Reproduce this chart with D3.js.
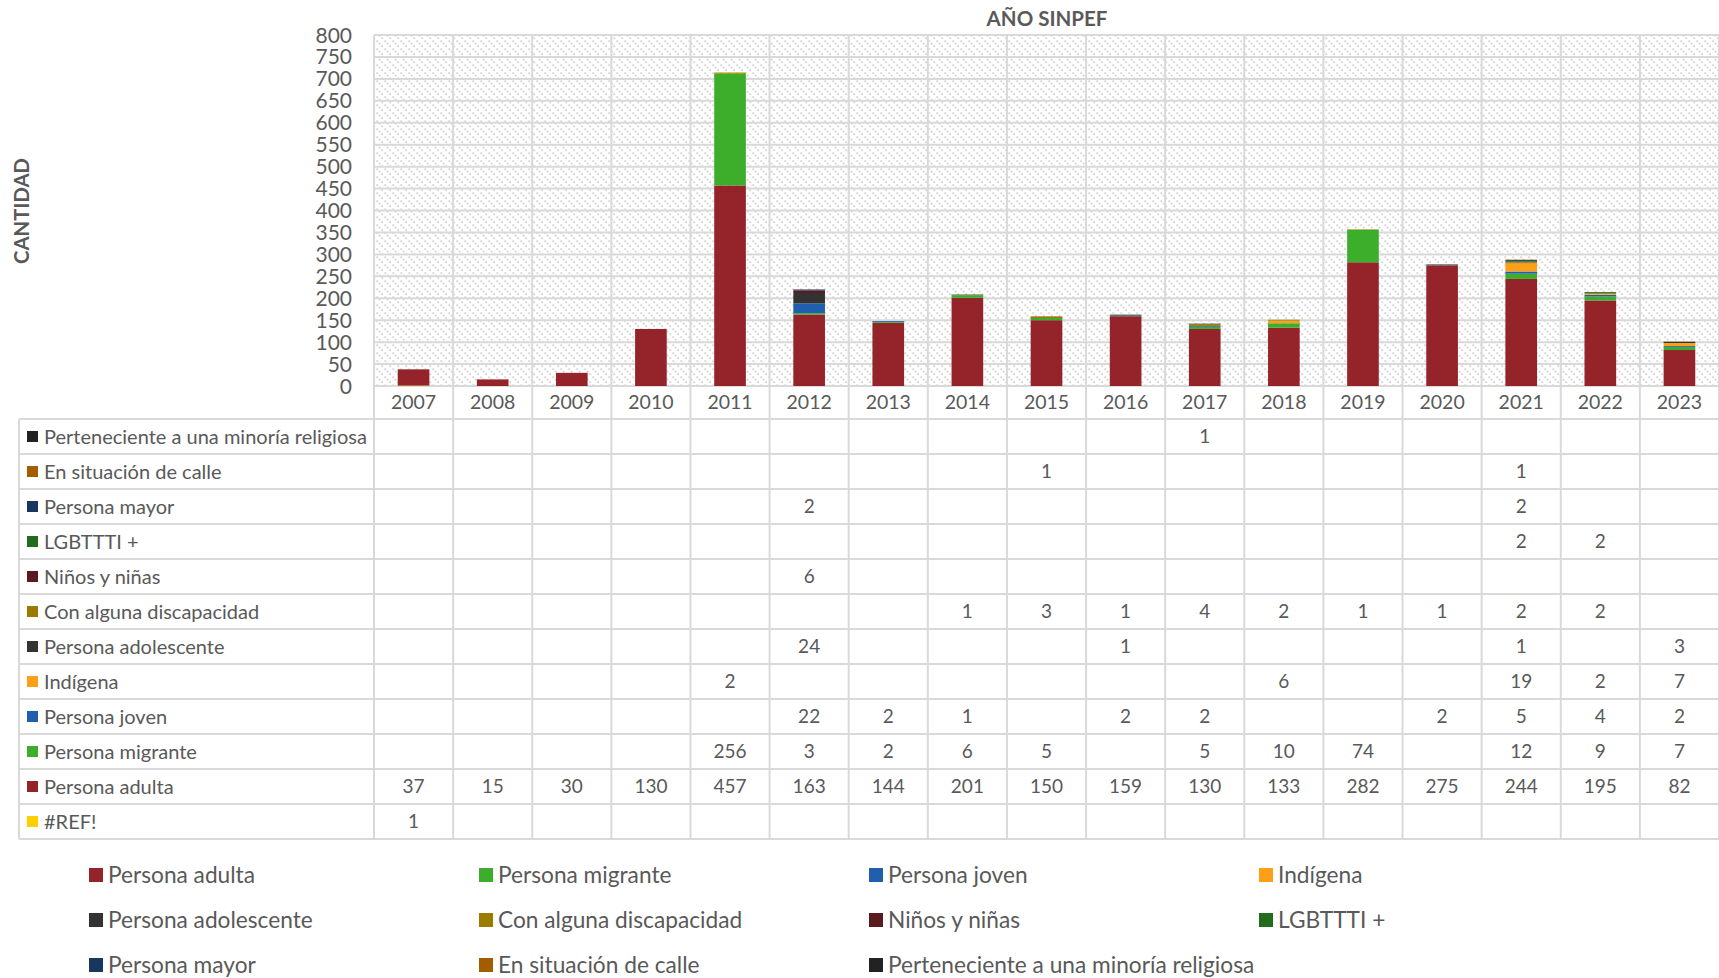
<!DOCTYPE html>
<html>
<head>
<meta charset="utf-8">
<script src="https://cdn.jsdelivr.net/npm/d3@7"></script>
<style>
  body { margin: 0; background: #fff; }
  svg { display: block; font-family: Lato, "Open Sans", sans-serif; }
  text { fill: #595959; }
</style>
</head>
<body>
<svg width="1719" height="978"></svg>
<script>
// --- data ---
const years = ["2007","2008","2009","2010","2011","2012","2013","2014","2015","2016","2017","2018","2019","2020","2021","2022","2023"];
const ref          = [1,null,null,null,null,null,null,null,null,null,null,null,null,null,null,null,null];
const adulta       = [37,15,30,130,457,163,144,201,150,159,130,133,282,275,244,195,82];
const migrante     = [null,null,null,null,256,3,2,6,5,null,5,10,74,null,12,9,7];
const joven        = [null,null,null,null,null,22,2,1,null,2,2,null,null,2,5,4,2];
const indigena     = [null,null,null,null,2,null,null,null,null,null,null,6,null,null,19,2,7];
const adolescente  = [null,null,null,null,null,24,null,null,null,1,null,null,null,null,1,null,3];
const discapacidad = [null,null,null,null,null,null,null,1,3,1,4,2,1,1,2,2,null];
const ninos        = [null,null,null,null,null,6,null,null,null,null,null,null,null,null,null,null,null];
const lgbt         = [null,null,null,null,null,null,null,null,null,null,null,null,null,null,2,2,null];
const mayor        = [null,null,null,null,null,2,null,null,null,null,null,null,null,null,2,null,null];
const calle        = [null,null,null,null,null,null,null,null,1,null,null,null,null,null,1,null,null];
const religiosa    = [null,null,null,null,null,null,null,null,null,null,1,null,null,null,null,null,null];
const yTicks = [0,50,100,150,200,250,300,350,400,450,500,550,600,650,700,750,800];

// series in stacking order (bottom first)
const series = [
	{name:"#REF!", values:ref, color:"#ffd000"},
	{name:"Persona adulta", values:adulta, color:"#95232a"},
	{name:"Persona migrante", values:migrante, color:"#3dae2b"},
	{name:"Persona joven", values:joven, color:"#1f5fad"},
	{name:"Indígena", values:indigena, color:"#ff9e17"},
	{name:"Persona adolescente", values:adolescente, color:"#333333"},
	{name:"Con alguna discapacidad", values:discapacidad, color:"#9a7b00"},
	{name:"Niños y niñas", values:ninos, color:"#5b1a1f"},
	{name:"LGBTTTI +", values:lgbt, color:"#236b1f"},
	{name:"Persona mayor", values:mayor, color:"#17375e"},
	{name:"En situación de calle", values:calle, color:"#a35c00"},
	{name:"Perteneciente a una minoría religiosa", values:religiosa, color:"#222222"}
];

let svg = d3.select("svg");
const pLeft = 374, pRight = 1719, pTop = 35, pBottom = 386;
const tableTop = 419, rowH = 35, tableLeft = 19;
const gridCol = "#d9d9d9";

let x = d3.scaleBand().domain(years).range([pLeft, pRight]);
let xBar = d3.scaleBand().domain(years).range([pLeft, pRight]).paddingInner(0.6).paddingOuter(0.3);
let y = d3.scaleLinear().domain([0, 800]).range([pBottom, pTop]);

// hatch pattern for plot background
let defs = svg.append("defs");
let pat = defs.append("pattern").attr("id","hatch").attr("patternUnits","userSpaceOnUse")
	.attr("width",8).attr("height",8);
pat.append("rect").attr("width",8).attr("height",8).attr("fill","#fff");
pat.append("path").attr("d","M-2,-2 L10,10 M-2,6 L2,10 M6,-2 L10,2")
	.attr("stroke","#dadada").attr("stroke-width",2).attr("stroke-dasharray","2,1.5");

svg.append("rect").attr("x",pLeft).attr("y",pTop).attr("width",pRight-pLeft).attr("height",pBottom-pTop)
	.attr("fill","url(#hatch)");

// grid
let grid = svg.append("g").attr("class","grid");
grid.selectAll("line.h").data(yTicks).enter().append("line")
	.attr("x1",pLeft).attr("x2",pRight).attr("y1",d=>y(d)).attr("y2",d=>y(d))
	.attr("stroke",gridCol).attr("stroke-width",2);
const tableBottom = tableTop + rowH*series.length;
grid.selectAll("line.v").data(years.concat(["end"])).enter().append("line")
	.attr("x1",(d,i)=> pLeft + i*x.step()).attr("x2",(d,i)=> pLeft + i*x.step())
	.attr("y1",pTop).attr("y2",tableBottom)
	.attr("stroke",gridCol).attr("stroke-width",2);

// stacked bars
let stackData = years.map((yr,i)=>{
	let o = {year:yr};
	series.forEach(s=>{ o[s.name] = s.values[i] || 0; });
	return o;
});
let stacked = d3.stack().keys(series.map(s=>s.name))(stackData);
let gbars = svg.append("g").attr("class","bars");
gbars.selectAll("g").data(stacked).enter().append("g")
	.attr("fill",(d,i)=>series[i].color)
	.selectAll("rect").data(d=>d).enter().append("rect")
		.attr("x",d=>xBar(d.data.year))
		.attr("width",xBar.bandwidth())
		.attr("y",d=>y(d[1]))
		.attr("height",d=>y(d[0]) - y(d[1]));

// y axis labels
svg.append("g").selectAll("text").data(yTicks).enter().append("text")
	.attr("x",352).attr("y",d=>y(d)).attr("dy","0.36em")
	.attr("text-anchor","end").attr("font-size",21).text(d=>d);

// x axis labels
svg.append("g").selectAll("text").data(years).enter().append("text")
	.attr("x",d=>x(d)+x.bandwidth()/2).attr("y",402).attr("dy","0.36em")
	.attr("text-anchor","middle").attr("font-size",19.5).text(d=>d);

// titles
svg.append("text").attr("x",1047).attr("y",19).attr("dy","0.36em").attr("text-anchor","middle")
	.attr("font-size",20.5).attr("font-weight","bold").text("AÑO SINPEF");
svg.append("text").attr("transform","translate(22,211) rotate(-90)").attr("dy","0.36em")
	.attr("text-anchor","middle").attr("font-size",20.3).attr("font-weight","bold").text("CANTIDAD");

// data table
let tableRows = series.slice().reverse();
let gt = svg.append("g").attr("class","table");
gt.selectAll("line.row").data(d3.range(tableRows.length+1)).enter().append("line")
	.attr("x1",tableLeft).attr("x2",pRight)
	.attr("y1",d=>tableTop + d*rowH).attr("y2",d=>tableTop + d*rowH)
	.attr("stroke",gridCol).attr("stroke-width",2);
gt.append("line").attr("x1",tableLeft).attr("x2",tableLeft).attr("y1",tableTop).attr("y2",tableBottom)
	.attr("stroke",gridCol).attr("stroke-width",2);

let rows = gt.selectAll("g.row").data(tableRows).enter().append("g")
	.attr("transform",(d,i)=>`translate(0,${tableTop + i*rowH + rowH/2})`);
rows.append("rect").attr("x",27).attr("y",-5.5).attr("width",11).attr("height",11).attr("fill",d=>d.color);
rows.append("text").attr("x",44).attr("dy","0.36em").attr("font-size",20).text(d=>d.name);
rows.selectAll("text.v").data(d=>d.values.map((v,i)=>({v:v, yr:years[i]})).filter(c=>c.v!=null))
	.enter().append("text")
	.attr("x",c=>x(c.yr)+x.bandwidth()/2).attr("dy","0.36em")
	.attr("text-anchor","middle").attr("font-size",19).text(c=>c.v);

// legend
let legendItems = series.slice(1);
let lg = svg.append("g").attr("class","legend");
let li = lg.selectAll("g").data(legendItems).enter().append("g")
	.attr("transform",(d,i)=>`translate(${89 + (i%4)*390},${875 + Math.floor(i/4)*45})`);
li.append("rect").attr("x",0).attr("y",-7).attr("width",14).attr("height",14).attr("fill",d=>d.color);
li.append("text").attr("x",19).attr("dy","0.36em").attr("font-size",22.7).text(d=>d.name);
</script>
</body>
</html>
